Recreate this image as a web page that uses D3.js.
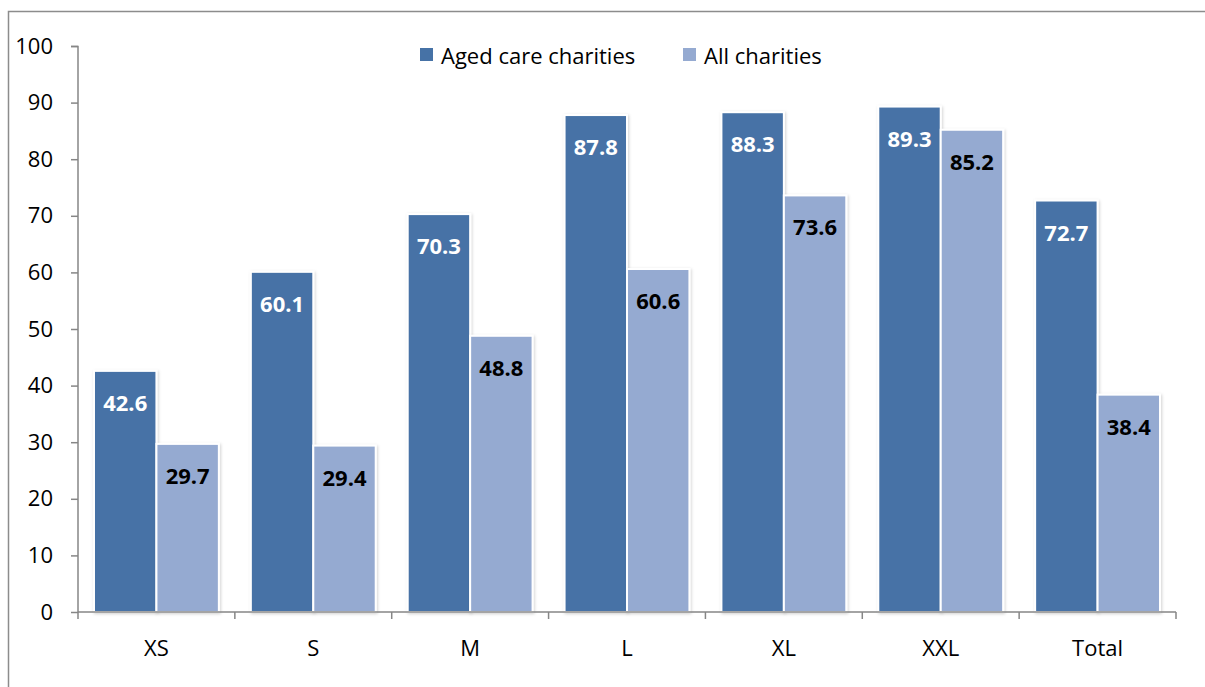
<!DOCTYPE html>
<html><head><meta charset="utf-8">
<script src="https://cdn.jsdelivr.net/npm/d3@7"></script>
<style>body{margin:0;background:#fff}svg{display:block}</style>
</head><body>
<svg id="c" width="1205" height="687"></svg>
<script>
const categories = ["XS","S","M","L","XL","XXL","Total"];
const seriesNames = ["Aged care charities","All charities"];
const agedCare = [42.6,60.1,70.3,87.8,88.3,89.3,72.7];
const allCharities = [29.7,29.4,48.8,60.6,73.6,85.2,38.4];
const yTicks = [0,10,20,30,40,50,60,70,80,90,100];
const colors = ["#4672A6","#95AAD1"];
const labelColors = ["#ffffff","#000000"];
const font = "'Open Sans', sans-serif";

const svg = d3.select("#c");
const defs = svg.append("defs");
const f = defs.append("filter").attr("id","sh").attr("x","-10%").attr("y","-10%").attr("width","130%").attr("height","120%");
f.append("feDropShadow").attr("dx",1).attr("dy",1).attr("stdDeviation",1.6).attr("flood-color","#000").attr("flood-opacity",0.18);

// outer border
svg.append("path").attr("d","M8.5,687 V11.5 H1205").attr("fill","none").attr("stroke","#8c8c8c").attr("stroke-width",1.5);

const y = d3.scaleLinear().domain([0,100]).range([612,46]);
const x0 = d3.scaleBand().domain(categories).range([78,1176]).padding(0);
const x1 = d3.scaleBand().domain(seriesNames).range([16, x0.bandwidth()-16]).padding(0);

const data = categories.map((c,i)=>({cat:c, vals:[agedCare[i],allCharities[i]]}));

const g = svg.append("g");
const groups = g.selectAll("g.grp").data(data).join("g").attr("transform",d=>`translate(${x0(d.cat)},0)`);
groups.selectAll("rect").data(d=>d.vals.map((v,k)=>({v,k}))).join("rect")
  .attr("x",d=>x1(seriesNames[d.k]))
  .attr("y",d=>y(d.v))
  .attr("width",x1.bandwidth())
  .attr("height",d=>y(0)-y(d.v))
  .attr("fill",d=>colors[d.k])
  .attr("stroke","#fff").attr("stroke-width",2)
  .attr("filter","url(#sh)");
groups.selectAll("text").data(d=>d.vals.map((v,k)=>({v,k}))).join("text")
  .attr("x",d=>x1(seriesNames[d.k])+x1.bandwidth()/2)
  .attr("y",d=>y(d.v)+31)
  .attr("text-anchor","middle").attr("dominant-baseline","central")
  .attr("font-family",font).attr("font-weight","bold").attr("font-size",22)
  .attr("fill",d=>labelColors[d.k])
  .text(d=>d.v.toFixed(1));

// y axis
const yAxis = d3.axisLeft(y).tickValues(yTicks).tickSize(7).tickPadding(18);
const ya = svg.append("g").attr("transform","translate(78,0)").call(yAxis);
ya.select(".domain").attr("stroke","#868686").attr("stroke-width",1.5).attr("d","M-7,46.5H0V612");
ya.selectAll(".tick line").attr("stroke","#868686").attr("stroke-width",1.5);
ya.selectAll(".tick text").attr("font-family",font).attr("font-size",22).attr("fill","#000");

// x axis
const xa = svg.append("g").attr("transform","translate(0,612)");
xa.append("line").attr("x1",78).attr("x2",1176).attr("y1",0).attr("y2",0).attr("stroke","#868686").attr("stroke-width",1.5);
const bounds = categories.map(c=>x0(c)).concat([x0(categories[categories.length-1])+x0.bandwidth()]);
xa.selectAll("line.t").data(bounds).join("line").attr("class","t")
  .attr("x1",d=>d).attr("x2",d=>d).attr("y1",0).attr("y2",7).attr("stroke","#868686").attr("stroke-width",1.5);
xa.selectAll("text").data(categories).join("text")
  .attr("x",d=>x0(d)+x0.bandwidth()/2).attr("y",35)
  .attr("text-anchor","middle").attr("dominant-baseline","central")
  .attr("font-family",font).attr("font-size",22).attr("fill","#000").text(d=>d);

// legend
const legX = [420,683];
const lg = svg.append("g");
seriesNames.forEach((n,i)=>{
  lg.append("rect").attr("x",legX[i]).attr("y",48).attr("width",13).attr("height",13).attr("fill",colors[i]);
  lg.append("text").attr("x",legX[i]+21).attr("y",55).attr("dominant-baseline","central")
    .attr("font-family",font).attr("font-size",22).attr("fill","#000").text(n);
});
</script>
</body></html>
